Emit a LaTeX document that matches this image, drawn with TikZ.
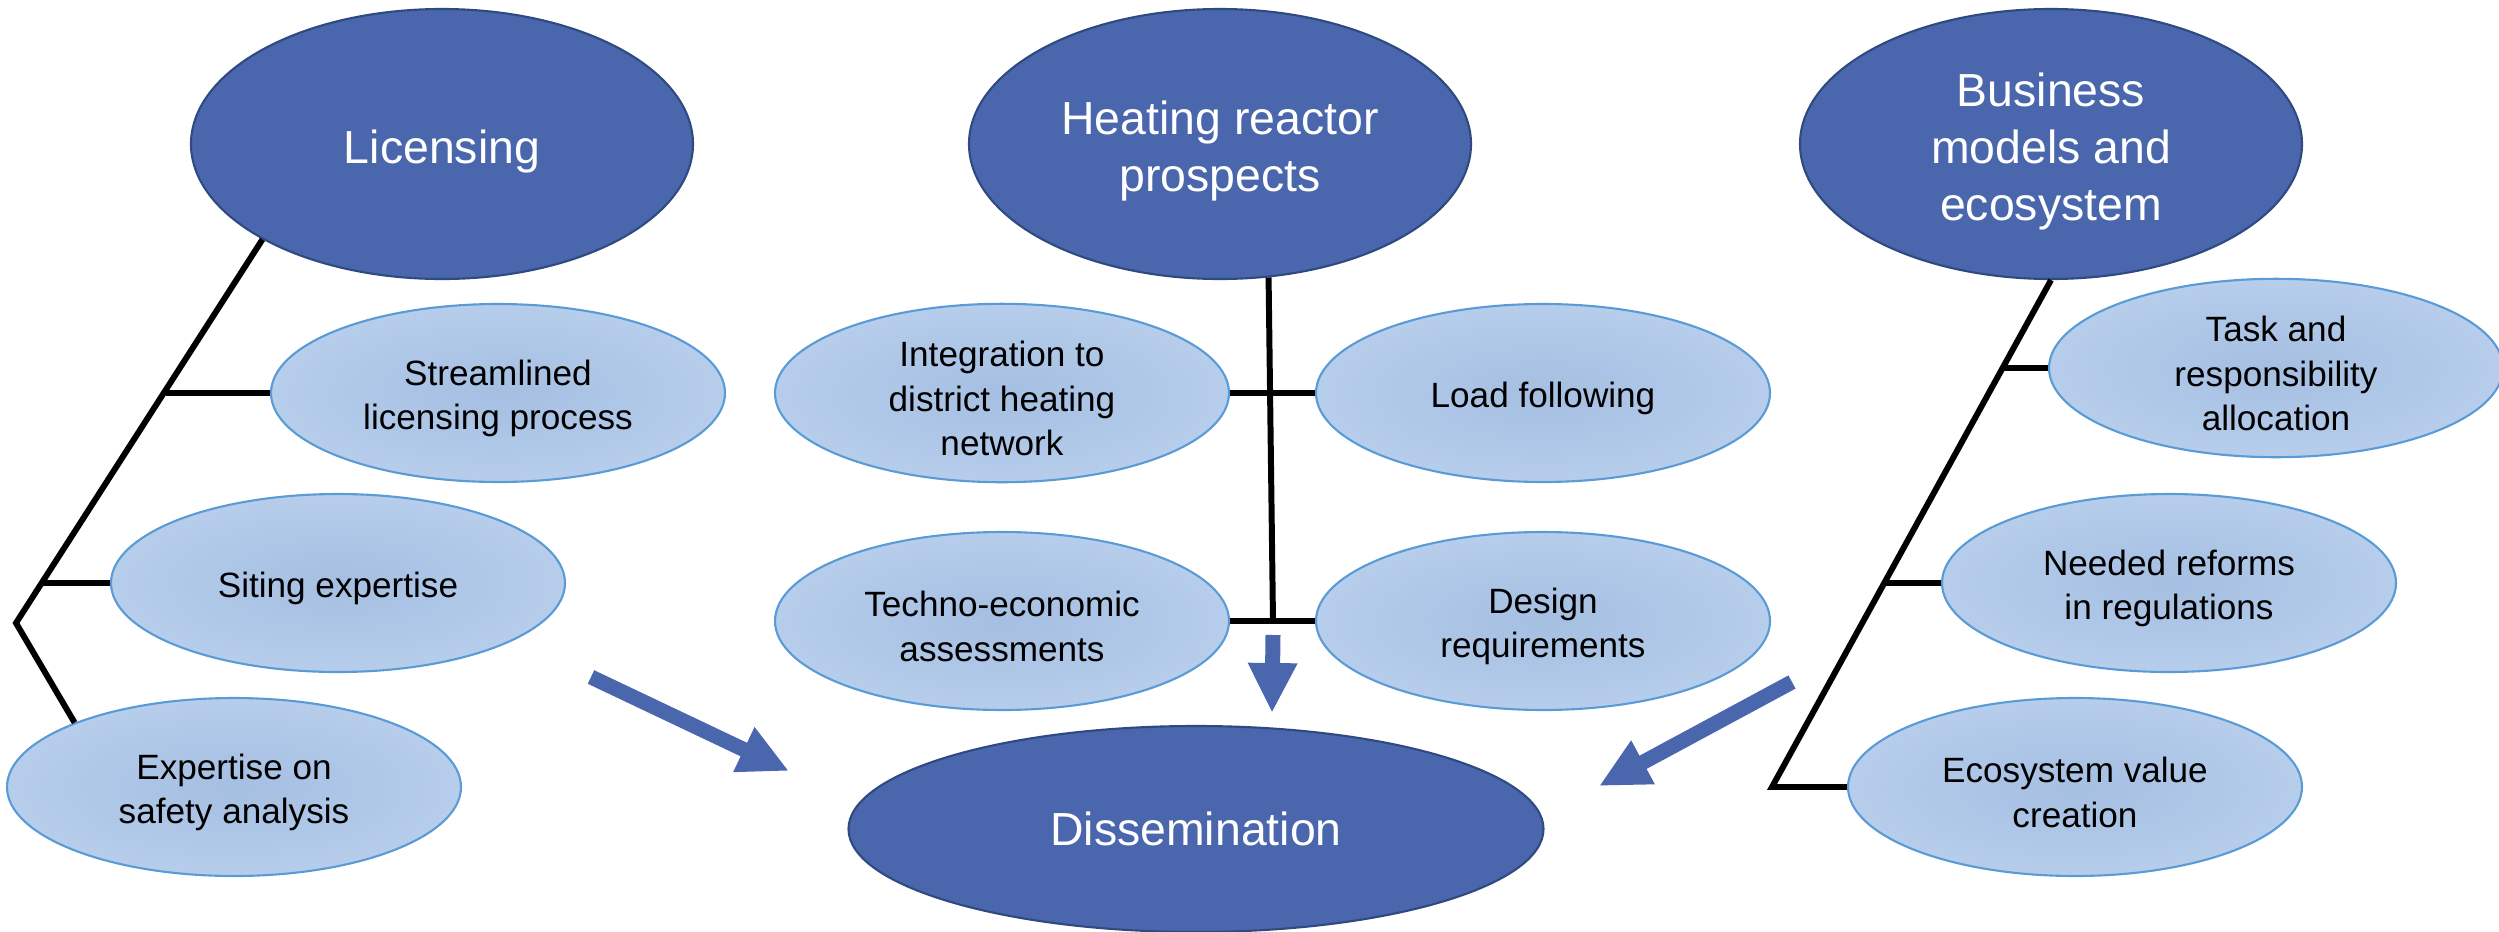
\documentclass[tikz,border=0pt]{standalone}
\usepackage{fontspec}
\setmainfont{Liberation Sans}
\usetikzlibrary{shapes,arrows.meta,positioning,calc}

\definecolor{topicblue}{HTML}{4A66AC}
\definecolor{topicedge}{HTML}{2F4A80}
\definecolor{subedge}{HTML}{5B9BD5}
\definecolor{subin}{HTML}{A5BFE2}
\definecolor{subout}{HTML}{B6CDEB}

% strut that drops the text a little inside the ellipse
\newcommand{\txtlift}{\rule{0pt}{1.04em}}

\tikzset{
  topic/.style={ellipse, draw=topicedge, line width=0.6pt, fill=topicblue, text=white,
    minimum width=5.02cm, minimum height=2.7cm, inner sep=0pt, align=center,
    font=\fontsize{13.2}{16.3}\selectfont},
  sub/.style={ellipse, draw=subedge, line width=0.6pt, inner color=subin, outer color=subout,
    minimum width=4.54cm, minimum height=1.78cm, inner sep=0pt, align=center,
    font=\fontsize{10}{12.7}\selectfont},
  branch/.style={black, line width=1.7pt},
  bigarrow/.style={topicblue, line width=0.15cm, -{Triangle[length=0.5cm,width=0.46cm]}}
}

\begin{document}
\begin{tikzpicture}
\useasboundingbox (0,0) rectangle (24.99,9.31);

% Main topics
\node[topic] (lic) at (4.42,7.87) {\txtlift Licensing};
\node[topic] (heat) at (12.20,7.87) {\txtlift Heating reactor\\prospects};
\node[topic] (biz) at (20.51,7.87) {\txtlift Business\\models and\\ecosystem};
\node[topic, minimum width=6.95cm, minimum height=2.06cm] (diss) at (11.96,1.02) {Dissemination};

% Licensing items
\node[sub] (strm) at (4.98,5.38) {\txtlift Streamlined\\licensing process};
\node[sub] (site) at (3.38,3.48) {\txtlift Siting expertise};
\node[sub] (expt) at (2.34,1.44) {\txtlift Expertise on\\safety analysis};

% Heating reactor items
\node[sub] (integ) at (10.02,5.38) {\txtlift Integration to\\district heating\\network};
\node[sub] (load) at (15.43,5.38) {\txtlift Load following};
\node[sub] (tech) at (10.02,3.10) {\txtlift Techno-economic\\assessments};
\node[sub] (dsgn) at (15.43,3.10) {\txtlift Design\\requirements};

% Business items
\node[sub] (task) at (22.76,5.63) {\txtlift Task and\\responsibility\\allocation};
\node[sub] (reform) at (21.69,3.48) {\txtlift Needed reforms\\in regulations};
\node[sub] (eco) at (20.75,1.44) {\txtlift Ecosystem value\\creation};

% Tree lines
\coordinate (lic-v) at (0.16,3.08);
\coordinate (lic-b1) at (1.66,5.38);
\coordinate (lic-b2) at (0.43,3.48);
\draw[branch] (lic.208.6) -- (lic-v) -- (expt.158.6);
\draw[branch] (lic-b1) -- (strm.west);
\draw[branch] (lic-b2) -- (site.west);

\coordinate (heat-v) at (12.73,3.10);
\draw[branch] (heat.-70.5) -- (heat-v);
\draw[branch] (integ.east) -- (load.west);
\draw[branch] (tech.east) -- (dsgn.west);

\coordinate (biz-v) at (17.72,1.44);
\coordinate (biz-b1) at (20.02,5.63);
\coordinate (biz-b2) at (18.84,3.48);
\draw[branch] (biz.south) -- (biz-v) -- (eco.west);
\draw[branch] (biz-b1) -- (task.west);
\draw[branch] (biz-b2) -- (reform.west);

% Arrows to dissemination
\coordinate (la-s) at (5.91,2.54);
\coordinate (la-e) at (7.89,1.60);
\coordinate (da-s) at (12.73,2.96);
\coordinate (da-e) at (12.72,2.18);
\coordinate (ra-s) at (17.92,2.49);
\coordinate (ra-e) at (15.99,1.45);
\draw[bigarrow] (la-s) -- (la-e);
\draw[bigarrow] (da-s) -- (da-e);
\draw[bigarrow] (ra-s) -- (ra-e);

\end{tikzpicture}
\end{document}
